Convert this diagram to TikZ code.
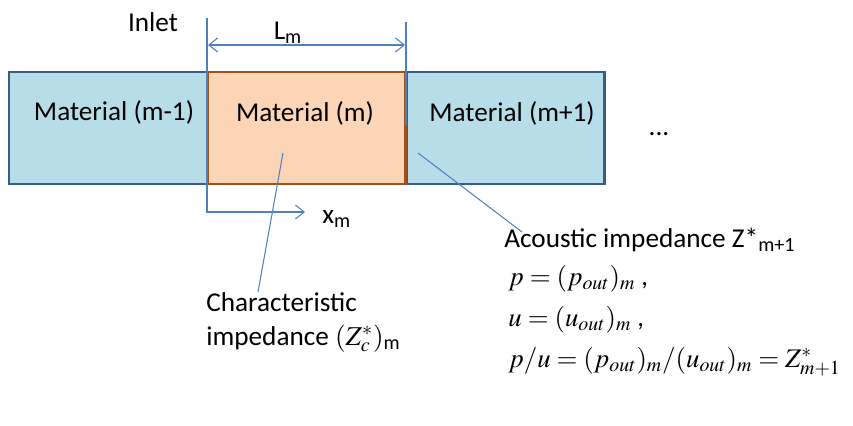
\documentclass[tikz,border=0pt]{standalone}
\usepackage{mathptmx}
\usepackage{fontspec}
\setmainfont{Carlito}
\usetikzlibrary{arrows.meta}

\definecolor{layerblue}{HTML}{B7DDE8}
\definecolor{layeredge}{HTML}{385D8A}
\definecolor{layerpeach}{HTML}{FBD5B5}
\definecolor{layerbrown}{HTML}{A0501A}
\definecolor{guideblue}{HTML}{4F81BD}

\begin{document}
\begin{tikzpicture}[x=0.02cm, y=-0.02cm,
  layer/.style={draw=layeredge, fill=layerblue, line width=1.3pt,
    minimum width=3.96cm, minimum height=2.24cm, inner sep=0pt},
  curlayer/.style={layer, draw=layerbrown, fill=layerpeach},
  txt/.style={font={\fontsize{15.5}{18}\selectfont}, inner sep=0pt},
  eqtxt/.style={font={\fontsize{15.3}{18}\selectfont}, inner sep=0pt, anchor=base west},
  guide/.style={draw=guideblue, line width=0.6pt},
  >={Straight Barb[length=5pt, width=8pt]}]

\useasboundingbox (0,0) rectangle (853,426);

% the three layers
\node [layer] (lprev) at (108,128) {};
\node [layer] (lnext) at (505.5,128) {};
\node [curlayer] (lcur) at (306.5,128) {};

\node [txt] (tprev) at (114,112) {Material (m-1)};
\node [txt] (tcur) at (305,113) {Material (m)};
\node [txt] (tnext) at (512,113) {Material (m+1)};
\node [txt] (dots) at (659,134) {...};

% inlet and thickness
\coordinate (intop) at (207,18);
\coordinate (inbot) at (207,212);
\coordinate (xend) at (305,212);
\coordinate (outtop) at (406,22);
\coordinate (outbot) at (406,125);
\coordinate (lmleft) at (208,45);
\coordinate (lmright) at (405,45);

\draw [guide] (outtop) -- (outbot);
\draw [guide, ->] (intop) -- (inbot) -- (xend);
\draw [guide, <->] (lmleft) -- (lmright);

\node [txt] (inlet) at (153,22) {Inlet};
\node [txt] (lm) at (288,33) {L\textsubscript{m}};
\node [txt, anchor=base west] (xm) at (322,223) {x\textsubscript{m}};

% impedance labels
\node [txt, anchor=base west] (char1) at (206,311) {Characteristic};
\node [txt, anchor=base west] (char2) at (206,345) {impedance $(Z_c^*)$\textsubscript{m}};
\coordinate (charin) at (283,153);
\coordinate (charout) at (258,292);
\draw [guide] (charin) -- (charout);

\node [txt, anchor=base west] (acou) at (504,247) {Acoustic impedance Z*\textsubscript{m+1}};
\coordinate (acouin) at (418,153);
\coordinate (acouout) at (522,232);
\draw [guide] (acouin) -- (acouout);

% boundary conditions
\node [eqtxt] (eq1) at (508,285) {$p=(p_{out})_m$ ,};
\node [eqtxt] (eq2) at (508,326) {$u=(u_{out})_m$ ,};
\node [eqtxt] (eq3) at (508,367) {$p/u=(p_{out})_m/(u_{out})_m=Z^*_{m+1}$};

\end{tikzpicture}
\end{document}
